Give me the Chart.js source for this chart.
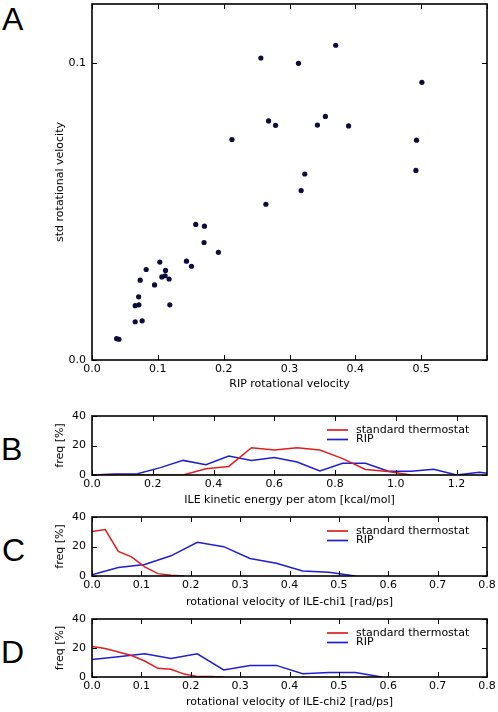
<!DOCTYPE html>
<html><head><meta charset="utf-8">
<script src="https://cdn.jsdelivr.net/npm/chart.js@4.4.1/dist/chart.umd.min.js"></script>
<style>
html,body{margin:0;padding:0;background:#fff;}
body{width:498px;height:712px;position:relative;overflow:hidden;}
canvas{position:absolute;left:0;}
.lt{position:absolute;font-family:'Liberation Sans',Arial,sans-serif;font-size:32px;line-height:32px;color:#000;}
</style></head><body>
<div class="lt" style="left:2px;top:3px">A</div>
<div class="lt" style="left:1px;top:433px">B</div>
<div class="lt" style="left:2px;top:534px">C</div>
<div class="lt" style="left:1px;top:636px">D</div>
<canvas id="cA" width="498" height="400" style="top:0px"></canvas>
<canvas id="cB" width="498" height="110" style="top:400px"></canvas>
<canvas id="cC" width="498" height="100" style="top:510px"></canvas>
<canvas id="cD" width="498" height="102" style="top:610px"></canvas>
<script>
// ---- Panel A: scatter ----
const ripRotVel = [0.2565,0.3136,0.3702,0.5011,0.2682,0.2788,0.3545,0.3424,0.3898,0.2126,0.4929,0.4920,0.3232,0.3177,
  0.2641,0.1576,0.1708,0.1702,0.1920,0.1435,0.1511,0.1030,0.0823,0.1117,0.1061,0.1111,0.1171,0.0732,0.0950,0.0708,
  0.0656,0.0712,0.1182,0.0656,0.0762,0.0374,0.0409];
const stdRotVel = [0.1018,0.1000,0.1061,0.0936,0.0806,0.0791,0.0821,0.0792,0.0789,0.0743,0.0741,0.0639,0.0627,0.0571,
  0.0525,0.0457,0.0451,0.0396,0.0363,0.0333,0.0316,0.0330,0.0305,0.0302,0.0280,0.0284,0.0273,0.0269,0.0253,0.0213,
  0.0183,0.0186,0.0186,0.0129,0.0132,0.0072,0.0070];

// ---- Panel B: ILE kinetic energy per atom ----
const energyBins = [0,0.075,0.15,0.225,0.3,0.375,0.45,0.525,0.6,0.675,0.75,0.825,0.9,0.975,1.05,1.125,1.2,1.275,1.35];
const energyStd  = [0,0,0,0,0,4.2,5.8,18.5,16.9,18.5,16.9,11.1,3.7,2.3,0,null,null,null,null];
const energyRIP  = [0,0.7,0.9,5.0,9.9,6.9,12.9,9.9,11.8,8.8,2.8,7.9,7.9,2.5,2.5,3.9,0,1.8,0];

// ---- Panel C: chi1 rotational velocity ----
const chi1BinsStd = [0,0.0267,0.0533,0.08,0.1067,0.1333,0.16,0.1867];
const chi1Std     = [30.2,31.5,16.7,13.0,6.2,1.6,0.5,0];
const chi1BinsRIP = [0,0.0533,0.1067,0.16,0.2133,0.2667,0.32,0.3733,0.4267,0.48,0.5333];
const chi1RIP     = [0.9,5.7,7.8,13.7,22.9,19.9,11.9,8.7,3.4,2.5,0];

// ---- Panel D: chi2 rotational velocity ----
const chi2BinsStd = [0,0.0267,0.0533,0.08,0.1067,0.1333,0.16,0.1867,0.2133,0.24,0.2667];
const chi2Std     = [21.1,19.6,17.3,14.8,11.0,6.0,5.3,2.0,0.4,0.3,0];
const chi2BinsRIP = [0,0.0533,0.1067,0.16,0.2133,0.2667,0.32,0.3733,0.4267,0.48,0.5333,0.5867];
const chi2RIP     = [12.0,14.0,16.0,12.8,16.0,4.9,8.0,8.0,2.2,3.1,3.1,0];

const seriesNames = ['standard thermostat','RIP'];
const RED = '#e01e1e', BLUE = '#1e1ed4';

Chart.defaults.font.family = "'DejaVu Sans', sans-serif";
Chart.defaults.font.size = 11;
Chart.defaults.color = '#000';

const pts = (xs, ys) => xs.map((x,i)=>({x:x, y:ys[i]}));

const frameTicks = {
  id:'frameTicks',
  afterDraw(chart){
    const ctx = chart.ctx, a = chart.chartArea, L = 5;
    ctx.save();
    ctx.strokeStyle = '#000'; ctx.lineWidth = 1;
    const xs = chart.scales.x, ys = chart.scales.y;
    ctx.beginPath();
    xs.ticks.forEach(t=>{ const p = Math.round(xs.getPixelForValue(t.value))+0.5;
      ctx.moveTo(p,a.bottom); ctx.lineTo(p,a.bottom-L); ctx.moveTo(p,a.top); ctx.lineTo(p,a.top+L); });
    ys.ticks.forEach(t=>{ const p = Math.round(ys.getPixelForValue(t.value))+0.5;
      ctx.moveTo(a.left,p); ctx.lineTo(a.left+L,p); ctx.moveTo(a.right,p); ctx.lineTo(a.right-L,p); });
    ctx.stroke();
    ctx.lineWidth = 1.6;
    ctx.strokeRect(a.left, a.top, a.right-a.left, a.bottom-a.top);
    const lg = chart.options.plugins.inlineLegend;
    if (lg && lg.show){
      ctx.font = "11px 'DejaVu Sans', sans-serif";
      ctx.textBaseline = 'middle'; ctx.textAlign = 'left'; ctx.fillStyle = '#000';
      chart.data.datasets.forEach((ds,i)=>{
        const y = a.top + 14 + i*9.5;
        ctx.strokeStyle = ds.borderColor; ctx.lineWidth = 1.7;
        ctx.beginPath(); ctx.moveTo(327,y); ctx.lineTo(348,y); ctx.stroke();
        ctx.fillText(ds.label, 356, y);
      });
    }
    ctx.restore();
  }
};

function fixAxis(w, h){
  return function(s){
    if (w!==null) s.width = w;
    if (h!==null) s.height = h;
    s.paddingTop = 0; s.paddingBottom = 0; s.paddingLeft = 0; s.paddingRight = 0;
  };
}

function makePanel(id, canvasTop, canvasH, areaTop, areaBottom, titleOff, datasets, xCfg, yCfg, xTitle, yTitle, legend){
  const xH = canvasTop + canvasH - areaBottom;
  const titlePB = xH - titleOff - 6.6;
  new Chart(document.getElementById(id), {
    data:{datasets:datasets},
    options:{
      responsive:false, animation:false, devicePixelRatio:1,
      layout:{padding:{left:52, right:11, top:areaTop-canvasTop, bottom:0}},
      plugins:{legend:{display:false}, tooltip:{enabled:false}, inlineLegend:{show:legend}},
      scales:{
        x:{type:'linear', min:xCfg.min, max:xCfg.max,
           grid:{display:false, drawTicks:false}, border:{display:false},
           ticks:{stepSize:xCfg.step, includeBounds:false, padding:3, maxRotation:0, autoSkip:false,
                  callback:xCfg.cb},
           title:{display:true, text:xTitle, padding:{top:0,bottom:titlePB}, font:{size:11}},
           afterFit:fixAxis(null, xH)},
        y:{type:'linear', min:yCfg.min, max:yCfg.max,
           grid:{display:false, drawTicks:false}, border:{display:false},
           ticks:{stepSize:yCfg.step, includeBounds:false, padding:6, autoSkip:false, callback:yCfg.cb},
           title:{display:true, text:yTitle, padding:{top:1.4,bottom:0}, font:{size:11}},
           afterFit:fixAxis(40, null)}
      }
    },
    plugins:[frameTicks]
  });
}

function lineDs(label, color, xs, ys){
  return {type:'line', label:label, data:pts(xs,ys), borderColor:color, backgroundColor:color,
          borderWidth:1.5, pointRadius:0, tension:0, fill:false, spanGaps:false};
}

// Panel A
makePanel('cA', 0, 400, 4, 360, 24,
  [{type:'scatter', label:'A', data:pts(ripRotVel, stdRotVel), pointRadius:2.6, pointBackgroundColor:'#0c0c3c',
    pointBorderWidth:0, backgroundColor:'#0c0c3c'}],
  {min:0, max:0.6, step:0.1, cb:(v)=> v>0.55 ? '' : v.toFixed(1)},
  {min:0, max:0.12, step:0.1, cb:(v)=> v.toFixed(1)},
  'RIP rotational velocity', 'std rotational velocity', false);

// Panel B
makePanel('cB', 400, 110, 416, 475, 25,
  [lineDs(seriesNames[0], RED, energyBins, energyStd), lineDs(seriesNames[1], BLUE, energyBins, energyRIP)],
  {min:0, max:1.3, step:0.2, cb:(v)=> v.toFixed(1)},
  {min:0, max:40, step:20, cb:(v)=> String(Math.round(v))},
  'ILE kinetic energy per atom [kcal/mol]', 'freq [%]', true);

// Panel C
makePanel('cC', 510, 100, 517, 576, 26,
  [lineDs(seriesNames[0], RED, chi1BinsStd, chi1Std), lineDs(seriesNames[1], BLUE, chi1BinsRIP, chi1RIP)],
  {min:0, max:0.8, step:0.1, cb:(v)=> v.toFixed(1)},
  {min:0, max:40, step:20, cb:(v)=> String(Math.round(v))},
  'rotational velocity of ILE-chi1 [rad/ps]', 'freq [%]', true);

// Panel D
makePanel('cD', 610, 102, 619, 677, 25,
  [lineDs(seriesNames[0], RED, chi2BinsStd, chi2Std), lineDs(seriesNames[1], BLUE, chi2BinsRIP, chi2RIP)],
  {min:0, max:0.8, step:0.1, cb:(v)=> v.toFixed(1)},
  {min:0, max:40, step:20, cb:(v)=> String(Math.round(v))},
  'rotational velocity of ILE-chi2 [rad/ps]', 'freq [%]', true);
</script>
</body></html>
